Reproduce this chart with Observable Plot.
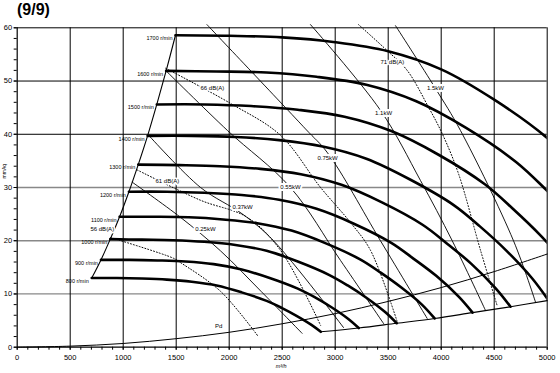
<!DOCTYPE html>
<html><head><meta charset="utf-8">
<script src="https://cdn.jsdelivr.net/npm/d3@7"></script>
<script src="https://cdn.jsdelivr.net/npm/@observablehq/plot@0.6"></script>
<style>
body{margin:0;background:#fff;}
#title{height:20px;font:bold 16px "Liberation Sans",Arial,sans-serif;padding-left:17px;line-height:19px;color:#000;}
svg{display:block;overflow:visible;}
</style></head><body>
<div id="title">(9/9)</div>
<div id="chart"></div>
<script>
// fan speeds (r/min)
const rpm = [800, 900, 1000, 1100, 1200, 1300, 1400, 1500, 1600, 1700];
// speed curves: airflow (m3/h) and pressure
const q800 = [703,941,1176,1412,1647,1882,2118,2353,2494,2635,2776,2864];
const p800 = [13.0,13.0,12.9,12.7,12.3,11.6,10.3,8.7,7.4,5.9,4.2,2.9];
const q900 = [790,1059,1324,1588,1853,2118,2382,2647,2806,2965,3124,3222];
const p900 = [16.4,16.4,16.3,16.1,15.6,14.6,13.0,11.0,9.4,7.5,5.3,3.6];
const q1000 = [878,1176,1471,1765,2059,2353,2647,2941,3118,3294,3471,3580];
const p1000 = [20.3,20.2,20.1,19.8,19.2,18.1,16.1,13.6,11.6,9.3,6.6,4.5];
const q1100 = [966,1294,1618,1941,2265,2588,2912,3235,3429,3624,3818,3938];
const p1100 = [24.5,24.5,24.4,24.0,23.3,21.9,19.5,16.5,14.0,11.2,8.0,5.4];
const q1200 = [1054,1412,1765,2118,2471,2824,3176,3529,3741,3953,4165,4296];
const p1200 = [29.2,29.2,29.0,28.6,27.7,26.0,23.2,19.6,16.6,13.4,9.5,6.5];
const q1300 = [1142,1529,1912,2294,2676,3059,3441,3824,4053,4282,4512,4654];
const p1300 = [34.3,34.2,34.0,33.5,32.5,30.5,27.2,23.0,19.5,15.7,11.1,7.6];
const q1400 = [1230,1647,2059,2471,2882,3294,3706,4118,4365,4612,4859,5012];
const p1400 = [39.7,39.7,39.5,38.9,37.7,35.4,31.5,26.7,22.7,18.2,12.9,8.8];
const q1500 = [1317,1765,2206,2647,3088,3529,3971,4412,4676,4941,5206,5370];
const p1500 = [45.6,45.6,45.3,44.6,43.3,40.6,36.2,30.6,26.0,20.9,14.8,10.1];
const q1600 = [1405,1882,2353,2824,3294,3765,4235,4706,4988,5271,5553,5728];
const p1600 = [51.9,51.8,51.6,50.8,49.3,46.2,41.2,34.8,29.6,23.7,16.8,11.5];
const q1700 = [1493,2000,2500,3000,3500,4000,4500,5000,5300,5600,5900,6086];
const p1700 = [58.6,58.5,58.2,57.3,55.6,52.2,46.5,39.3,33.4,26.8,19.0,13.0];
// lower limit (system) line
const lowQ = [2864,3222,3580,3938,4296,4654,5000];
const lowP = [2.9,3.6,4.5,5.4,6.5,7.6,8.75];
// dynamic pressure Pd
const pdQ = [0,500,1000,1500,2000,2500,3000,3500,4000,4500,5000];
const pdP = [0,0.2,0.7,1.6,2.8,4.4,6.3,8.6,11.2,14.2,17.5];
// power lines
const kwNames = ["0.25kW","0.37kW","0.55kW","0.75kW","1.1kW","1.5kW"];
const kw025Q = [1085,1540,1918,2300,2688];
const kw025P = [31.0,24.4,18.1,10.5,2.6];
const kw037Q = [1241,1730,2126,2418,3078];
const kw037P = [39.8,30.0,25.0,20.0,3.7];
const kw055Q = [1400,1984,2578,3050,3458];
const kw055P = [52.0,40.7,30.0,16.3,4.4];
const kw075Q = [1790,2720,2928,3427,3868];
const kw075P = [60.6,41.0,36.5,20.0,5.4];
const kw11Q = [2767,3427,3805,4104,4418];
const kw11P = [60.6,44.5,31.3,20.0,6.9];
const kw15Q = [3569,3946,4182,4682,4890];
const kw15P = [60.4,48.6,40.7,20.0,8.45];
// kW label positions
const kwLabQ = [1776,2126,2578,2928,3456,3946];
const kwLabP = [22.1,26.4,30.0,35.6,43.9,48.6];
// sound lines
const dbNames = ["56 dB(A)","61 dB(A)","66 dB(A)","71 dB(A)"];
const db56Q = [880,1475,1540,1918,2267];
const db56P = [20.6,16.7,15.9,10.5,2.2];
const db61Q = [1132,1730,2170,2484,2862];
const db61P = [33.3,27.6,24.4,18.2,4.1];
const db66Q = [1400,2012,2484,2862,3145,3333,3588];
const db66P = [52.4,45.8,39.8,30.0,23.4,18.2,4.6];
const db71Q = [3220,3491,3679,3880,4010,4163,4371,4528];
const db71P = [60.6,55.7,52.0,45.1,40.1,32.6,18.2,7.8];
const dbLabQ = [691,1305,1729,3427];
const dbLabP = [22.1,31.3,48.6,53.5];

const speedQ = [q800,q900,q1000,q1100,q1200,q1300,q1400,q1500,q1600,q1700];
const speedP = [p800,p900,p1000,p1100,p1200,p1300,p1400,p1500,p1600,p1700];
const speedRows = rpm.flatMap((n,i)=>speedQ[i].map((q,j)=>({n,q,p:speedP[i][j]})));
const starts = rpm.map((n,i)=>({n,q:speedQ[i][0],p:speedP[i][0]}));
const zip = (Q,P)=>Q.map((q,i)=>({q,p:P[i]}));
const kwQ = [kw025Q,kw037Q,kw055Q,kw075Q,kw11Q,kw15Q];
const kwP = [kw025P,kw037P,kw055P,kw075P,kw11P,kw15P];
const kwRows = kwNames.flatMap((k,i)=>kwQ[i].map((q,j)=>({k,q,p:kwP[i][j]})));
const dbQ = [db56Q,db61Q,db66Q,db71Q];
const dbP = [db56P,db61P,db66P,db71P];
const dbRows = dbNames.flatMap((k,i)=>dbQ[i].map((q,j)=>({k,q,p:dbP[i][j]})));
const kwLabels = kwNames.map((t,i)=>({t,q:kwLabQ[i],p:kwLabP[i]}));
const dbLabels = dbNames.map((t,i)=>({t,q:dbLabQ[i],p:dbLabP[i]}));

const font = "'Liberation Sans', Arial, sans-serif";
const chart = Plot.plot({
  width: 560, height: 353,
  marginLeft: 16.7, marginRight: 13.3, marginTop: 7.3, marginBottom: 26.3,
  x: {domain: [0, 5000], label: null},
  y: {domain: [0, 60], label: null},
  style: {fontFamily: font, fontSize: "7.5px", background: "white", color: "black", overflow: "visible"},
  marks: [
    Plot.ruleY([10,20,30], {stroke: "#888", strokeWidth: 1.3}),
    Plot.ruleY([40,50,60], {stroke: "black", strokeWidth: 1}),
    Plot.ruleX(d3.range(500, 5001, 500), {stroke: "black", strokeWidth: 1}),
    Plot.ruleX([0], {stroke: "black", strokeWidth: 1.2}),
    Plot.ruleY([0], {stroke: "black", strokeWidth: 1.2}),
    Plot.axisX({ticks: d3.range(0, 5001, 100), tickSize: 3, tickFormat: () => "", label: null}),
    Plot.axisX({ticks: d3.range(0, 5001, 500), tickSize: 3, tickPadding: 4, tickFormat: d => String(d), label: null}),
    Plot.axisY({ticks: d3.range(0, 61, 2), tickSize: 3, tickFormat: () => "", label: null}),
    Plot.axisY({ticks: d3.range(0, 61, 10), tickSize: 3, tickPadding: 2, tickFormat: d => String(d), label: null}),
    Plot.line(pdQ.map((q,i)=>({q,p:pdP[i]})), {x: "q", y: "p", curve: "catmull-rom", stroke: "black", strokeWidth: 1}),
    Plot.text([{q:1900,p:4.0}], {x: "q", y: "p", text: () => "Pd", fontSize: 6}),
    Plot.line(dbRows, {x: "q", y: "p", z: "k", curve: "catmull-rom", stroke: "black", strokeWidth: 1, strokeDasharray: "1,2"}),
    Plot.line(kwRows, {x: "q", y: "p", z: "k", curve: "catmull-rom", stroke: "black", strokeWidth: 0.9}),
    Plot.line(zip(lowQ, lowP), {x: "q", y: "p", curve: "catmull-rom", stroke: "black", strokeWidth: 1.1}),
    Plot.line(starts, {x: "q", y: "p", curve: "catmull-rom", stroke: "black", strokeWidth: 1.1}),
    Plot.line(speedRows, {x: "q", y: "p", z: "n", curve: "catmull-rom", stroke: "black", strokeWidth: 2.6, clip: true}),
    Plot.text(starts, {x: "q", y: "p", text: d => `${d.n} r/min`, textAnchor: "end", dx: -3, dy: 3, fontSize: 5.5}),
    Plot.text(kwLabels, {x: "q", y: "p", text: "t", fontSize: 6, stroke: "white", strokeWidth: 4, fill: "black"}),
    Plot.text(dbLabels, {x: "q", y: "p", text: "t", textAnchor: "start", fontSize: 6, stroke: "white", strokeWidth: 3, fill: "black"}),
    Plot.text([{q:2490,p:0}], {x: "q", y: "p", text: () => "m³/h", dy: 19, fontSize: 5.5, fontStyle: "italic"}),
    Plot.text([{p:31.7}], {y: "p", frameAnchor: "left", text: () => "mmAq", rotate: -90, dx: -13, fontSize: 5})
  ]
});
document.getElementById("chart").appendChild(chart);
</script>
</body></html>
